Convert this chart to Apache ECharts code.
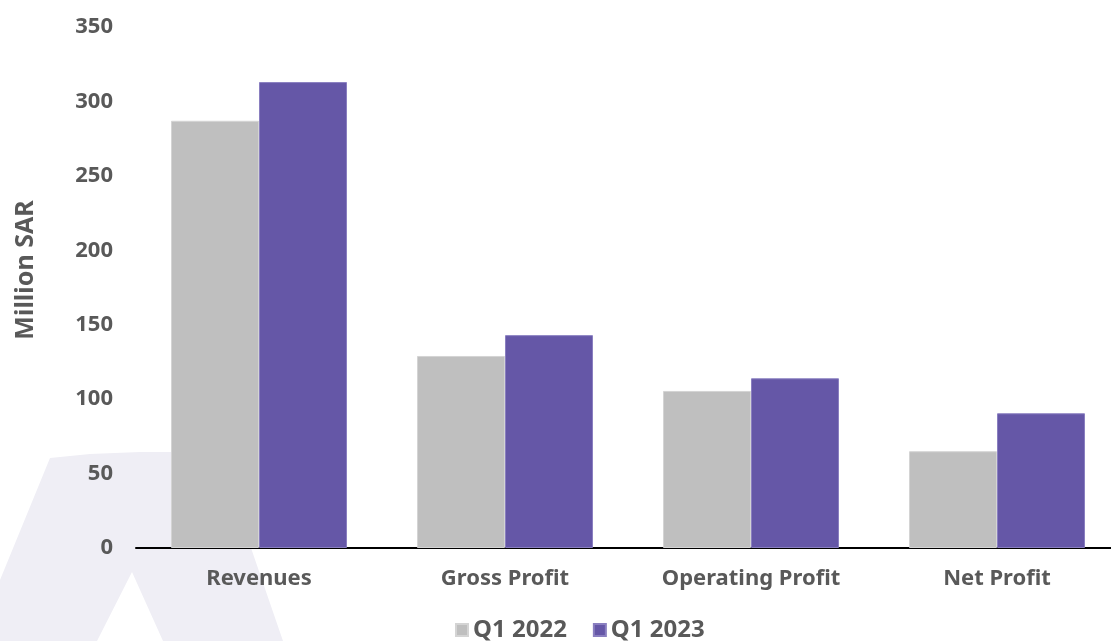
<!DOCTYPE html>
<html><head><meta charset="utf-8">
<script src="https://cdn.jsdelivr.net/npm/echarts@6/dist/echarts.min.js"></script>
<style>html,body{margin:0;padding:0;background:#fff}#c{width:1111px;height:641px}</style>
</head><body><div id="c"></div>
<script>
const categories = ['Revenues', 'Gross Profit', 'Operating Profit', 'Net Profit'];
const seriesNames = ['Q1 2022', 'Q1 2023'];
const q1_2022 = [287, 129, 105.5, 65];
const q1_2023 = [313, 143, 114, 90.5];
const yTicks = {min: 0, max: 350, interval: 50};
const yTitle = 'Million SAR';

const FONT = '"Noto Sans", "Open Sans", sans-serif';
const chart = echarts.init(document.getElementById('c'), null, {renderer: 'canvas'});
chart.setOption({
  animation: false,
  backgroundColor: '#ffffff',
  graphic: [{
    type: 'polygon', z: -10, silent: true,
    shape: {points: [[-25,641],[50,458],[90,454],[140,452],[218,452],[283,641],[163,641],[132,572],[97,641]]},
    style: {fill: '#efeef5'}
  }, {
    type: 'text', z: 10, silent: true,
    x: 26, y: 270, rotation: Math.PI / 2,
    style: {text: yTitle, fontFamily: FONT, fontWeight: 'bold', fontSize: 25, fill: '#595959',
            align: 'center', verticalAlign: 'middle'}
  }],
  grid: {left: 136, width: 984, top: 27, bottom: 93, containLabel: false, outerBoundsMode: 'none'},
  legend: {
    bottom: -6, left: 450, itemWidth: 12, itemHeight: 12, itemGap: 26,
    icon: 'rect',
    textStyle: {fontFamily: FONT, fontWeight: 'bold', fontSize: 24, color: '#595959', padding: [0,0,0,0]},
    data: seriesNames
  },
  xAxis: {
    type: 'category', data: categories,
    axisLine: {lineStyle: {color: '#000', width: 2}},
    axisTick: {show: false},
    axisLabel: {fontFamily: FONT, fontWeight: 'bold', fontSize: 22, color: '#595959', margin: 20}
  },
  yAxis: {
    type: 'value', min: yTicks.min, max: yTicks.max, interval: yTicks.interval,
    splitLine: {show: false}, axisLine: {show: false}, axisTick: {show: false},
    axisLabel: {fontFamily: FONT, fontWeight: 'bold', fontSize: 22, color: '#595959', margin: 23}
  },
  series: [
    {name: seriesNames[0], type: 'bar', data: q1_2022, barWidth: 88, barGap: '0%',
     itemStyle: {color: '#bfbfbf', borderColor: '#d4d4d4', borderWidth: 1}},
    {name: seriesNames[1], type: 'bar', data: q1_2023, barWidth: 88, barGap: '0%',
     itemStyle: {color: '#6557a7', borderColor: '#8a7fc0', borderWidth: 1}}
  ]
});
</script></body></html>
